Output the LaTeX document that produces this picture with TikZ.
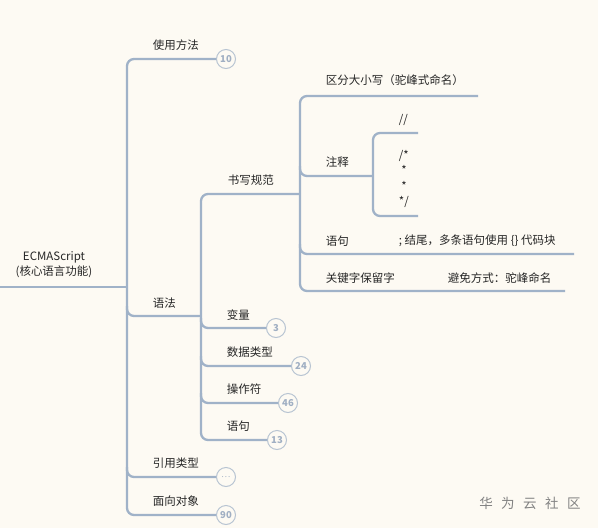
\documentclass[tikz,border=0pt]{standalone}
\usepackage{fontspec}
\setmainfont{Noto Sans CJK SC}
\definecolor{mapbg}{RGB}{253,250,243}
\definecolor{mapline}{RGB}{160,178,200}
\definecolor{badgeline}{RGB}{184,196,210}
\definecolor{badgetext}{RGB}{160,175,195}
\definecolor{marktext}{RGB}{130,130,130}
\tikzset{
  topic/.style={anchor=west, inner sep=0.75pt, font=\fontsize{11.5}{15.5}\selectfont, text=black!85},
  branch/.style={draw=mapline, line width=2.3pt, rounded corners=7pt},
  badge/.style={circle, draw=badgeline, fill=mapbg, line width=1pt, minimum size=19pt, inner sep=0pt,
    font=\fontsize{9.5}{9.5}\selectfont\bfseries, text=badgetext},
}
\begin{document}
\begin{tikzpicture}[x=1pt,y=-1pt]
\fill[mapbg] (0,0) rectangle (598,528);
\useasboundingbox (0,0) rectangle (598,528);

% Root
\node[align=center, inner sep=0.75pt, font=\fontsize{11.5}{15}\selectfont, text=black!85] (root) at (54,265) {ECMAScript\\(核心语言功能)};
\coordinate (rootL) at (0,287);
\coordinate (trunkT) at (127,59);
\coordinate (trunkB) at (127,515);

% Badges
\node[badge] (bUse) at (226,59) {10};
\node[badge] (bVar) at (276,328) {3};
\node[badge] (bType) at (301,366) {24};
\node[badge] (bOper) at (288,403) {46};
\node[badge] (bStmt) at (277,440) {13};
\node[badge, font=\fontsize{8}{8}\selectfont] (bRef) at (226,477) {.\hspace{1pt}.\hspace{1pt}.};
\node[badge] (bObj) at (226,515) {90};

% Text Nodes
\node[topic] (use) at (152,45) {使用方法};
\node[topic] (syntax) at (152,303) {语法};
\node[topic] (reftype) at (152,463) {引用类型};
\node[topic] (object) at (152,501) {面向对象};
\node[topic] (write) at (227,180) {书写规范};
\node[topic] (var) at (226,315) {变量};
\node[topic] (dtype) at (226,352) {数据类型};
\node[topic] (oper) at (226,389) {操作符};
\node[topic] (stmt) at (226,426) {语句};
\node[topic] (case) at (325,80) {区分大小写（驼峰式命名）};
\node[topic] (note) at (325,162) {注释};
\node[topic] (lineCmt) at (398,120) {//};
\node[topic, align=left] (blockCmt) at (398,179) {/*\\\hspace{2.5pt}*\\\hspace{2.5pt}*\\*/};
\node[topic] (sentence) at (325,241) {语句};
\node[topic] (sentenceTip) at (398,241) {; 结尾，多条语句使用 \{\} 代码块};
\node[topic] (keyword) at (325,278) {关键字保留字};
\node[topic] (keywordTip) at (447,278) {避免方式：驼峰命名};

% Watermark
\node[inner sep=0pt, font=\fontsize{13.5}{14}\selectfont, text=marktext] (mark) at (530,503)
  {华\hspace{8.5pt}为\hspace{8.5pt}云\hspace{8.5pt}社\hspace{8.5pt}区};

% Main trunk
\draw[branch] (rootL) -- (127,287);
\draw[branch] (bUse) -- (trunkT) -- (trunkB) -- (bObj);
\draw[branch] (127,306) -- (127,316) -- (201,316);
\draw[branch] (127,467) -- (127,477) -- (bRef);

% Syntax
\draw[branch] (300,194) -- (201,194) -- (201,440) -- (bStmt);
\draw[branch] (201,318) -- (201,328) -- (bVar);
\draw[branch] (201,356) -- (201,366) -- (bType);
\draw[branch] (201,393) -- (201,403) -- (bOper);

% Writing rules
\coordinate (caseE) at (478,96);
\coordinate (keywordE) at (565,291);
\draw[branch] (caseE) -- (300,96) -- (300,291) -- (keywordE);
\draw[branch] (300,166) -- (300,176) -- (373,176);
\draw[branch] (300,244) -- (300,254) -- (574,254);

% Comments
\draw[branch] (418,133) -- (373,133) -- (373,216) -- (418,216);

\end{tikzpicture}
\end{document}
